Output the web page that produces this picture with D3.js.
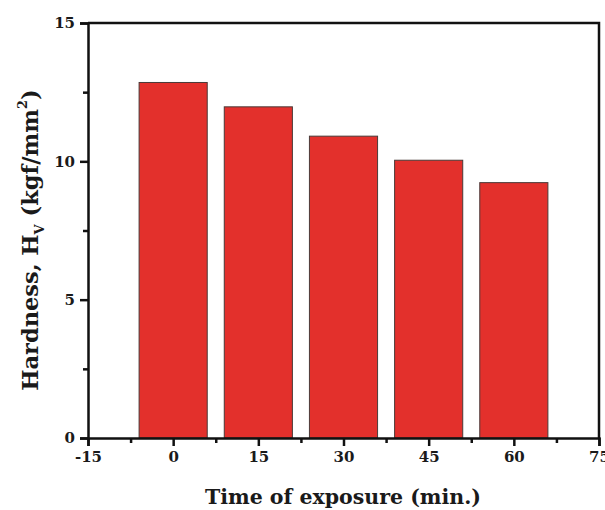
<!DOCTYPE html>
<html>
<head>
<meta charset="utf-8">
<script src="https://cdn.jsdelivr.net/npm/d3@7"></script>
<style>
  body { margin: 0; background: #fff; }
  text { font-family: "DejaVu Serif", serif; font-weight: bold; fill: #1a1a1a; }
</style>
</head>
<body>
<div id="chart"></div>
<script>
var width = 605,
    height = 510;

// data
var times = [0, 15, 30, 45, 60];
var hardness = [12.85, 11.97, 10.91, 10.04, 9.23];
var xTicks = [-15, 0, 15, 30, 45, 60, 75];
var yTicks = [0, 5, 10, 15];

var margin = {top: 23, right: 6, bottom: 72, left: 88};

var svg = d3.select("#chart")
    .append("svg")
    .attr("width", width)
    .attr("height", height);

var x = d3.scaleLinear()
    .domain([-15, 75])
    .range([margin.left, width - margin.right]);

var y = d3.scaleLinear()
    .domain([0, 15])
    .range([height - margin.bottom, margin.top]);

var barWidth = 12; // in minutes

svg.selectAll(".bar")
    .data(times)
    .enter().append("rect")
      .attr("class", "bar")
      .attr("x", function(d) { return x(d - barWidth / 2); })
      .attr("width", function(d) { return x(d + barWidth / 2) - x(d - barWidth / 2); })
      .attr("y", function(d, i) { return y(hardness[i]); })
      .attr("height", function(d, i) { return y(0) - y(hardness[i]); })
      .style("fill", "#e3302c")
      .style("stroke", "#4a3a38")
      .style("stroke-width", 1);

// frame top and right
svg.append("path")
    .attr("d", "M" + x(-15) + "," + y(15) + "H" + x(75) + "V" + y(0))
    .style("fill", "none")
    .style("stroke", "#111")
    .style("stroke-width", 2.5);

// minor ticks
var xMinor = xTicks.slice(0, -1).map(function(d) { return d + 7.5; });
var yMinor = [2.5, 7.5, 12.5];

svg.append("g")
    .attr("transform", "translate(0," + y(0) + ")")
    .call(d3.axisBottom(x).tickValues(xTicks).tickSize(8).tickPadding(5)
      .tickFormat(function(d) { return String(d); }));

svg.append("g")
    .attr("transform", "translate(0," + y(0) + ")")
    .call(d3.axisBottom(x).tickValues(xMinor).tickSize(5).tickFormat(""))
    .select(".domain").remove();

svg.append("g")
    .attr("transform", "translate(" + x(-15) + ",0)")
    .call(d3.axisLeft(y).tickValues(yTicks).tickSize(8).tickPadding(5));

svg.append("g")
    .attr("transform", "translate(" + x(-15) + ",0)")
    .call(d3.axisLeft(y).tickValues(yMinor).tickSize(5).tickFormat(""))
    .select(".domain").remove();

svg.selectAll(".domain")
    .style("stroke", "#111")
    .style("stroke-width", 2.5);
svg.selectAll(".tick line")
    .style("stroke", "#111")
    .style("stroke-width", 2.5);
svg.selectAll(".tick text")
    .style("font-family", "'DejaVu Serif', serif")
    .style("font-weight", "bold")
    .style("font-size", "15px")
    .style("fill", "#1a1a1a");

// axis titles
svg.append("text")
    .attr("x", 343)
    .attr("y", 504)
    .attr("text-anchor", "middle")
    .style("font-size", "20.5px")
    .text("Time of exposure (min.)");

var yt = svg.append("text")
    .attr("transform", "translate(38," + 240 + ") rotate(-90)")
    .attr("text-anchor", "middle")
    .style("font-size", "22.5px");
yt.append("tspan").text("Hardness, H");
yt.append("tspan").attr("dy", 6).style("font-size", "13px").text("V");
yt.append("tspan").attr("dy", -6).text(" (kgf/mm");
yt.append("tspan").attr("dy", -11).style("font-size", "13px").text("2");
yt.append("tspan").attr("dy", 11).text(")");
</script>
</body>
</html>
